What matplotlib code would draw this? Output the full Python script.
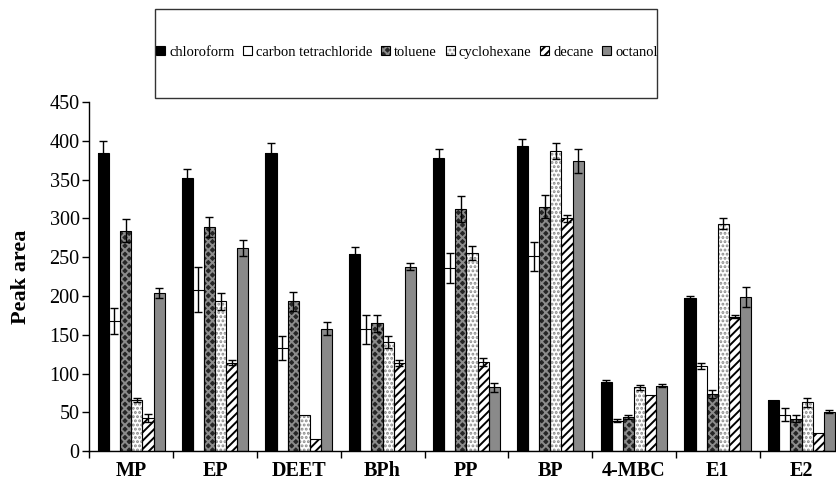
import numpy as np
import matplotlib
matplotlib.use("Agg")
import matplotlib.pyplot as plt
from matplotlib.patches import Rectangle, Patch
from matplotlib.legend_handler import HandlerTuple

compounds = ["MP", "EP", "DEET", "BPh", "PP", "BP", "4-MBC", "E1", "E2"]
solvents = ["chloroform", "carbon tetrachloride", "toluene",
            "cyclohexane", "decane", "octanol"]

chloroform = [385, 352, 385, 254, 378, 394, 89, 198, 66]
chloroform_err = [15, 12, 12, 9, 12, 9, 3, 2, 0]
carbon_tetrachloride = [168, 208, 133, 157, 236, 251, 39, 110, 47]
carbon_tetrachloride_err = [17, 29, 15, 19, 19, 19, 2, 4, 8]
toluene = [284, 289, 193, 165, 312, 315, 44, 74, 42]
toluene_err = [15, 13, 12, 11, 17, 15, 2, 5, 4]
cyclohexane = [66, 193, 47, 141, 255, 387, 82, 293, 63]
cyclohexane_err = [3, 11, 0, 8, 9, 10, 3, 7, 6]
decane = [43, 114, 15, 114, 115, 300, 72, 173, 23]
decane_err = [5, 3, 0, 4, 5, 4, 0, 2, 0]
octanol = [204, 262, 158, 238, 82, 374, 84, 199, 51]
octanol_err = [6, 10, 8, 5, 6, 16, 2, 13, 2]

values = [chloroform, carbon_tetrachloride, toluene, cyclohexane, decane, octanol]
errors = [chloroform_err, carbon_tetrachloride_err, toluene_err,
          cyclohexane_err, decane_err, octanol_err]

# fill colour, hatch pattern, hatch colour for each solvent
styles = [
    ("black", None, None),
    ("white", None, None),
    ("#262626", "xxxx", "#8c8c8c"),
    ("white", "....", "#8a8a8a"),
    ("white", "////", "black"),
    ("#8a8a8a", None, None),
]

plt.rcParams["font.family"] = ["Liberation Serif", "DejaVu Serif"]
plt.rcParams["hatch.linewidth"] = 1.4

fig = plt.figure(figsize=(8.37, 4.84), dpi=100)
ax = fig.add_axes([0.1067, 0.068, 1.0078 - 0.1067, 0.789 - 0.068])

x = np.arange(len(compounds))
width = 0.133
legend_handles = []
for i, (name, vals, errs, (face, hatch, hcol)) in enumerate(
        zip(solvents, values, errors, styles)):
    pos = x + (i - 2.5) * width
    ax.bar(pos, vals, width, color=face, linewidth=0, zorder=2)
    layers = [Patch(facecolor=face, linewidth=0)]
    if hatch:
        ax.bar(pos, vals, width, fill=False, hatch=hatch, edgecolor=hcol,
               linewidth=0, zorder=2.2)
        layers.append(Patch(fill=False, hatch=hatch, edgecolor=hcol, linewidth=0))
    ax.bar(pos, vals, width, fill=False, edgecolor="black", linewidth=0.8,
           zorder=2.4)
    layers.append(Patch(fill=False, edgecolor="black", linewidth=0.8))
    legend_handles.append(tuple(layers))

    errs = np.asarray(errs, dtype=float)
    m = errs > 0
    ax.errorbar(pos[m], np.asarray(vals)[m], yerr=errs[m], fmt="none",
                ecolor="black", elinewidth=1, capsize=3, capthick=1, zorder=3)

ax.set_xlim(-0.5, len(compounds) - 0.5)
ax.set_ylim(0, 450)
ax.set_yticks(np.arange(0, 451, 50))
ax.tick_params(axis="y", direction="out", length=5, width=1, labelsize=14.5,
               pad=2)

ax.set_xticks(np.arange(-0.5, len(compounds), 1.0))
ax.set_xticklabels([])
ax.tick_params(axis="x", which="major", direction="out", length=5, width=1)
ax.set_xticks(x, minor=True)
ax.set_xticklabels(compounds, minor=True, fontsize=14.5, fontweight="bold")
ax.tick_params(axis="x", which="minor", length=0, pad=7)

for side in ("top", "right"):
    ax.spines[side].set_visible(False)
for side in ("left", "bottom"):
    ax.spines[side].set_linewidth(1)

ax.set_ylabel("Peak area", fontsize=16, fontweight="bold", labelpad=13)

# legend box
box_l, box_b, box_r, box_t = 155 / 837, 1 - 98 / 484, 657 / 837, 1 - 9 / 484
fig.patches.append(Rectangle((box_l, box_b), box_r - box_l, box_t - box_b,
                             transform=fig.transFigure, fill=False,
                             edgecolor="#333333", linewidth=1))
fig.legend(legend_handles, solvents, loc="center",
           bbox_to_anchor=((box_l + box_r) / 2 + 0.001, (box_b + box_t) / 2 + 0.003),
           ncol=6, frameon=False, fontsize=10.5,
           handler_map={tuple: HandlerTuple(ndivide=1, pad=0)},
           handlelength=0.62, handleheight=0.62, handletextpad=0.27,
           columnspacing=0.6, borderaxespad=0, borderpad=0)

fig.savefig("out.png", dpi=100)
